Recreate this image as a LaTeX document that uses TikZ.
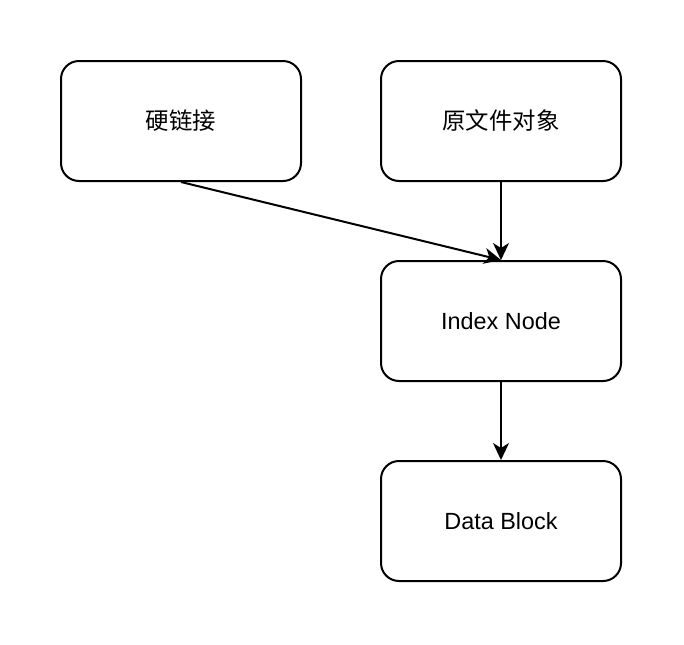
\documentclass[tikz,border=0pt]{standalone}
\usepackage{fontspec}
\setmainfont{Liberation Sans}
\newfontfamily\cjk{Noto Sans CJK SC}
\usepackage{xcolor}
\usepackage{tikz}
\usetikzlibrary{arrows.meta, positioning}
\tikzset{
    box/.style={rectangle, rounded corners=9pt, draw=black, line width=1pt, fill=white,
                minimum width=120pt, minimum height=60pt, align=center,
                font=\fontsize{11.7pt}{14pt}\selectfont, inner sep=2pt},
    arr/.style={-{Stealth[length=8.5pt, width=8pt, inset=2.5pt]}, line width=1pt, color=black},
}
\begin{document}
\begin{tikzpicture}[x=0.5pt, y=-0.5pt, node distance=39pt and 39pt]

  \useasboundingbox[fill=white] (0,0) rectangle (684,644);

  % top row
  \node[box] (hard) at (181,121) {\cjk 硬链接};
  \node[box, right=of hard] (orig) {\cjk 原文件对象};

  % chain down
  \node[box, below=of orig] (inode) {Index Node};
  \node[box, below=of inode] (data) {Data Block};

  \draw[arr] (hard.south) -- (inode.north);
  \draw[arr] (orig.south) -- (inode.north);
  \draw[arr] (inode.south) -- (data.north);

\end{tikzpicture}
\end{document}
